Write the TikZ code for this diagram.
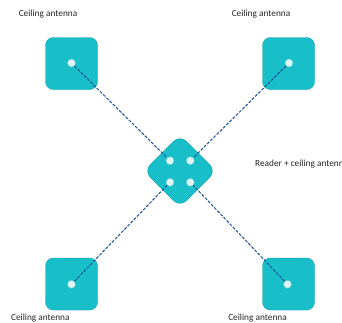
\documentclass[tikz,border=0pt]{standalone}
\usepackage{fontspec}
\setmainfont{Carlito}
\definecolor{antfill}{RGB}{24,190,200}
\definecolor{antedge}{RGB}{18,165,175}
\definecolor{holefill}{RGB}{220,246,246}
\definecolor{linkcol}{RGB}{25,80,150}
\tikzset{
  antenna/.style={draw=antedge, fill=antfill, rounded corners=8pt, minimum size=52pt, inner sep=0pt},
  reader/.style={draw=antedge, fill=antfill, rounded corners=9pt, minimum size=51pt, inner sep=0pt, rotate=45},
  hole/.style={circle, draw=antedge!60, fill=holefill, minimum size=8pt, inner sep=0pt},
  tag/.style={font=\fontsize{9.3}{11}\selectfont, text=black!85, inner sep=0pt},
  link/.style={draw=linkcol, line width=1pt, dash pattern=on 3pt off 1.5pt}
}
\begin{document}
\begin{tikzpicture}[x=1pt,y=-1pt] %reader with four ceiling antennas
  \clip (0,0) rectangle (342,322);
  \fill[white] (0,0) rectangle (342,322);
  % antennas
  \node[antenna] (atl) at (71.5,63.5) {};
  \node[antenna] (atr) at (288.5,63.5) {};
  \node[antenna] (abl) at (71.5,284) {};
  \node[antenna] (abr) at (288.5,284) {};
  \node[reader] (rd) at (180,171) {};
  % holes
  \node[hole] (htl) at (71.5,63) {};
  \node[hole] (htr) at (289,63) {};
  \node[hole] (hbl) at (71.5,284.3) {};
  \node[hole] (hbr) at (287.5,284.3) {};
  \node[hole] (r1) at (170,160.7) {};
  \node[hole] (r2) at (190.3,160.7) {};
  \node[hole] (r3) at (170,182.3) {};
  \node[hole] (r4) at (190.3,182.3) {};
  % links
  \draw[link] (htl) -- (r1);
  \draw[link] (htr) -- (r2);
  \draw[link] (hbl) -- (r3);
  \draw[link] (hbr) -- (r4);
  % labels
  \node[tag] (ltl) at (48,14.3) {Ceiling antenna};
  \node[tag] (ltr) at (261,14.3) {Ceiling antenna};
  \node[tag] (lbl) at (40.3,318) {Ceiling antenna};
  \node[tag] (lbr) at (257.5,318) {Ceiling antenna};
  \node[tag, anchor=west] (lrd) at (255,164.3) {Reader + ceiling antenna};
\end{tikzpicture}
\end{document}
